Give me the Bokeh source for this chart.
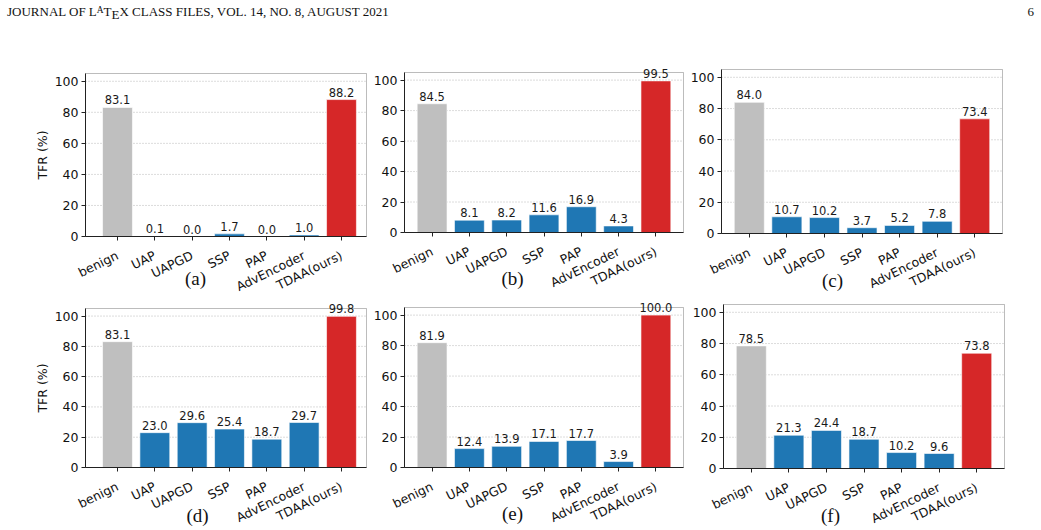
import numpy as np
from bokeh.plotting import figure
from bokeh.models import (ColumnDataSource, Range1d, FixedTicker, LabelSet, Label, Div,
                          BoxAnnotation)
from bokeh.layouts import column, row
from bokeh.core.properties import value
from bokeh.embed import file_html
from bokeh.resources import INLINE

# ---------------- data ----------------
categories = ["benign", "UAP", "UAPGD", "SSP", "PAP", "AdvEncoder", "TDAA(ours)"]
tfr_a = [83.1, 0.1, 0.0, 1.7, 0.0, 1.0, 88.2]
tfr_b = [84.5, 8.1, 8.2, 11.6, 16.9, 4.3, 99.5]
tfr_c = [84.0, 10.7, 10.2, 3.7, 5.2, 7.8, 73.4]
tfr_d = [83.1, 23.0, 29.6, 25.4, 18.7, 29.7, 99.8]
tfr_e = [81.9, 12.4, 13.9, 17.1, 17.7, 3.9, 100.0]
tfr_f = [78.5, 21.3, 24.4, 18.7, 10.2, 9.6, 73.8]
captions = ["(a)", "(b)", "(c)", "(d)", "(e)", "(f)"]
y_ticks = [0, 20, 40, 60, 80, 100]
y_label = "TFR (%)"
header_text = ("JOURNAL OF L<span style='font-size:0.72em;vertical-align:0.3em;'>A</span>"
               "T<span style='vertical-align:-0.45ex;'>E</span>X CLASS FILES, VOL. 14, NO. 8, AUGUST 2021")
page_number = "6"

# ---------------- style / layout ----------------
GRAY = "#bfbfbf"
BLUE = "#1f77b4"
RED = "#d62728"
SPINE = "#222222"
Y_MAX = 105

# canvas size, spine offsets (left/right/top/bottom px), x limits of the axes box,
# caption centre (px right of left spine, px below bottom spine), y-label centre x (px)
layout_cfg = [
    dict(w=368, h=258, l=85, r=2, t=33, b=62, xlim=(-0.857, 6.67), cap=(110, 42), ylab=42),
    dict(w=320, h=258, l=36, r=5, t=32, b=66, xlim=(-0.74, 6.74), cap=(108, 46), ylab=None),
    dict(w=353, h=258, l=33, r=39, t=29, b=65, xlim=(-0.74, 6.74), cap=(111, 47), ylab=None),
    dict(w=368, h=232, l=85, r=2, t=10, b=63, xlim=(-0.857, 6.67), cap=(112, 48), ylab=42),
    dict(w=320, h=232, l=36, r=5, t=9, b=63, xlim=(-0.74, 6.74), cap=(108, 46), ylab=None),
    dict(w=353, h=232, l=35, r=37, t=6, b=62, xlim=(-0.74, 6.74), cap=(107, 47), ylab=None),
]


def make_panel(vals, caption, cfg):
    n = len(categories)
    xs = list(range(n))
    colors = [GRAY] + [BLUE] * (n - 2) + [RED]
    src = ColumnDataSource(dict(x=xs, top=vals, color=colors,
                                label=[f"{v:.1f}" for v in vals]))
    w, h, l, r, t, b = cfg["w"], cfg["h"], cfg["l"], cfg["r"], cfg["t"], cfg["b"]
    x0, x1 = cfg["xlim"]
    kx = (w - l - r) / (x1 - x0)
    ky = (h - t - b) / Y_MAX
    xr = Range1d(x0 - l / kx, x1 + r / kx)
    yr = Range1d(-b / ky, Y_MAX + t / ky)

    p = figure(width=w, height=h, x_range=xr, y_range=yr,
               output_backend="svg", toolbar_location=None, min_border=0)
    p.outline_line_color = None
    p.background_fill_color = "white"
    p.border_fill_color = "white"
    p.xgrid.visible = False
    p.ygrid.visible = False

    # dotted horizontal grid inside the axes box
    p.segment(x0=[x0] * len(y_ticks), x1=[x1] * len(y_ticks), y0=y_ticks, y1=y_ticks,
              line_color="#b8b8b8", line_dash="1 2", line_width=1)

    p.vbar(x="x", top="top", width=0.8, source=src, fill_color="color",
           line_color="white", line_alpha=0.6, line_width=1)

    p.add_layout(LabelSet(x="x", y="top", text="label", source=src,
                          text_align="center", text_baseline="alphabetic",
                          y_offset=3, text_font_size="11.5px",
                          text_font=value("DejaVu Sans"), text_color="#1a1a1a"))

    # axes box (spines)
    p.add_layout(BoxAnnotation(left=x0, right=x1, bottom=0, top=Y_MAX,
                               fill_color=None, fill_alpha=0,
                               line_color=SPINE, line_width=1))

    # y axis
    yax = p.yaxis[0]
    yax.fixed_location = x0
    yax.bounds = (0, Y_MAX)
    yax.ticker = FixedTicker(ticks=y_ticks)
    yax.axis_line_color = SPINE
    yax.major_tick_line_color = SPINE
    yax.major_tick_out = 4
    yax.major_tick_in = 0
    yax.minor_tick_line_color = None
    yax.major_label_standoff = 3
    yax.major_label_text_font = "DejaVu Sans"
    yax.major_label_text_font_size = "12.5px"
    yax.major_label_text_color = "#111111"

    # x axis
    xax = p.xaxis[0]
    xax.fixed_location = 0
    xax.bounds = (x0, x1)
    xax.ticker = FixedTicker(ticks=xs)
    xax.major_label_overrides = {i: c for i, c in zip(xs, categories)}
    xax.axis_line_color = SPINE
    xax.major_tick_line_color = SPINE
    xax.major_tick_out = 4
    xax.major_tick_in = 0
    xax.minor_tick_line_color = None
    xax.major_label_orientation = np.deg2rad(26)
    xax.major_label_standoff = 14
    xax.major_label_text_font = "DejaVu Sans"
    xax.major_label_text_font_size = "12.5px"
    xax.major_label_text_color = "#111111"

    if cfg["ylab"] is not None:
        p.add_layout(Label(x=xr.start + cfg["ylab"] / kx, y=Y_MAX / 2, angle=np.pi / 2,
                           text=y_label, text_align="center", text_baseline="middle",
                           text_font="DejaVu Sans", text_font_size="12.5px",
                           text_color="#111111"))

    # caption
    p.add_layout(Label(x=x0 + cfg["cap"][0] / kx, y=-cfg["cap"][1] / ky, text=caption,
                       text_align="center", text_baseline="middle",
                       text_font="Liberation Serif", text_font_size="19px",
                       text_color="#111111"))
    return p


series = [tfr_a, tfr_b, tfr_c, tfr_d, tfr_e, tfr_f]
figs = [make_panel(v, c, cfg) for v, c, cfg in zip(series, captions, layout_cfg)]

header = Div(text=(
    "<div style=\"position:relative;width:1041px;height:40px;font-family:'Liberation Serif',serif;"
    "font-size:13px;color:#111;\">"
    f"<span style='position:absolute;left:7px;top:3px;white-space:nowrap;'>{header_text}</span>"
    f"<span style='position:absolute;right:7px;top:3px;'>{page_number}</span></div>"),
    width=1041, height=40, margin=(0, 0, 0, 0))

layout = column(header, row(*figs[:3], spacing=0), row(*figs[3:], spacing=0), spacing=0)

with open("out.html", "w") as f:
    f.write(file_html(layout, INLINE))
